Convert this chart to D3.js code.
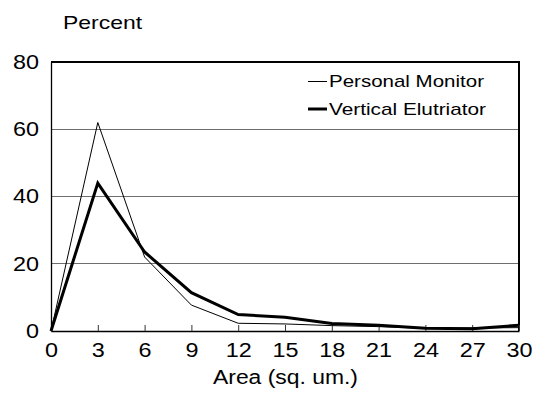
<!DOCTYPE html>
<html><head><meta charset="utf-8">
<script src="https://cdn.jsdelivr.net/npm/d3@7"></script>
<style>body{margin:0;background:#fff}svg text{font-family:"Liberation Sans",Arial,sans-serif;fill:#000}</style>
</head><body><svg id="c" width="544" height="397"></svg>
<script>
const areas = [0, 3, 6, 9, 12, 15, 18, 21, 24, 27, 30];
const personalMonitor = [0, 62, 22, 7.7, 2.3, 2.1, 1.6, 1.3, 0.8, 0.9, 1.0];
const verticalElutriator = [0, 44, 23.5, 11.4, 4.9, 4.1, 2.2, 1.7, 0.8, 0.7, 1.7];
const yTicks = [0, 20, 40, 60, 80];
const seriesNames = ["Personal Monitor", "Vertical Elutriator"];

const svg = d3.select("#c");
const L = 51, R = 519, T = 62, B = 331;
const x = d3.scaleLinear().domain([0, 30]).range([L, R]);
const y = d3.scaleLinear().domain([0, 80]).range([B, T]);

// gridlines
svg.append("g").selectAll("line").data(yTicks.filter(d => d > 0 && d < 80)).join("line")
  .attr("x1", L).attr("x2", R).attr("y1", d => y(d)).attr("y2", d => y(d))
  .attr("stroke", "#6e6e6e").attr("stroke-width", 1).attr("shape-rendering", "crispEdges");

// frame
svg.append("path").attr("d", `M${L},${T}H${R}V${B}`).attr("fill", "none")
  .attr("stroke", "#000").attr("stroke-width", 1.3).attr("shape-rendering", "crispEdges");

// x axis
const xAxis = d3.axisBottom(x).tickValues(areas).tickSizeInner(-6).tickSizeOuter(0).tickPadding(12);
const gx = svg.append("g").attr("transform", `translate(0,${B})`).call(xAxis);
gx.select(".domain").attr("stroke", "#000").attr("stroke-width", 1.3);
gx.selectAll(".tick line").attr("stroke", "#333");
gx.selectAll(".tick text").attr("font-size", 20).attr("dy", "0.71em")
  .attr("textLength", d => String(d).length * 13).attr("lengthAdjust", "spacingAndGlyphs");

// y axis
const yAxis = d3.axisLeft(y).tickValues(yTicks).tickSize(0).tickPadding(12);
const gy = svg.append("g").attr("transform", `translate(${L},0)`).call(yAxis);
gy.select(".domain").attr("stroke", "#000").attr("stroke-width", 1.3);
gy.selectAll(".tick text").attr("font-size", 20)
  .attr("textLength", d => String(d).length * 13).attr("lengthAdjust", "spacingAndGlyphs");

// lines
const line = d3.line().x((d, i) => x(areas[i])).y(d => y(d));
svg.append("path").datum(personalMonitor).attr("d", line).attr("fill", "none")
  .attr("stroke", "#000").attr("stroke-width", 1);
svg.append("path").datum(verticalElutriator).attr("d", line).attr("fill", "none")
  .attr("stroke", "#000").attr("stroke-width", 3).attr("stroke-linejoin", "miter");

// legend
const lg = svg.append("g");
[[81.5, 1, 87.3, 155], [109, 3, 114.5, 157]].forEach((p, i) => {
  lg.append("line").attr("x1", 308).attr("x2", 327).attr("y1", p[0]).attr("y2", p[0])
    .attr("stroke", "#000").attr("stroke-width", p[1]);
  lg.append("text").attr("x", 329).attr("y", p[2]).attr("font-size", 17)
    .attr("textLength", p[3]).attr("lengthAdjust", "spacingAndGlyphs").text(seriesNames[i]);
});

// titles
svg.append("text").attr("x", 63).attr("y", 29).attr("font-size", 19)
  .attr("textLength", 79).attr("lengthAdjust", "spacingAndGlyphs").text("Percent");
svg.append("text").attr("x", 213).attr("y", 384).attr("font-size", 20)
  .attr("textLength", 145).attr("lengthAdjust", "spacingAndGlyphs").text("Area (sq. um.)");
</script></body></html>
